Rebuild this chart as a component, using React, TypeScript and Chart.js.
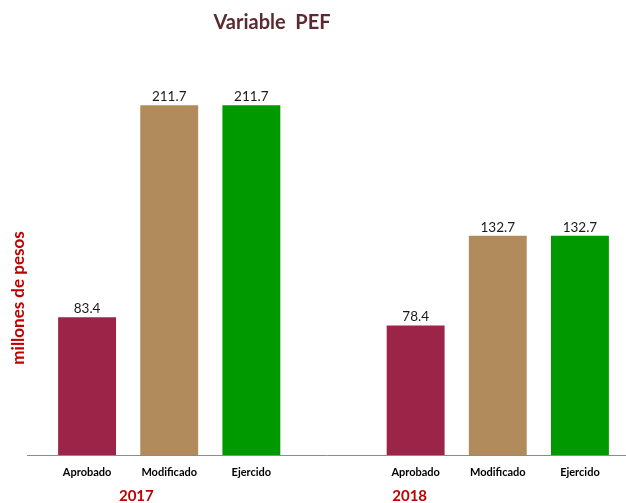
import React, { useEffect, useRef } from "react";
import { Chart, registerables } from "chart.js";

Chart.register(...registerables);

const title = "Variable  PEF";
const yAxisTitle = "millones de pesos";
const categories = ["Aprobado", "Modificado", "Ejercido"];
const years = ["2017", "2018"];
const values2017 = [83.4, 211.7, 211.7];
const values2018 = [78.4, 132.7, 132.7];
const barColors = ["#9c2449", "#b28b5c", "#009900"];

const labels = [...categories, "", ...categories];
const values: (number | null)[] = [...values2017, null, ...values2018];
const colors = [...barColors, "transparent", ...barColors];

const FONT = "Lato, 'Open Sans', sans-serif";

const decorPlugin = {
  id: "decor",
  afterDatasetsDraw(chart: any) {
    const ctx = chart.ctx as CanvasRenderingContext2D;
    const area = chart.chartArea;
    const x = chart.scales.x;
    ctx.save();
    // baseline
    ctx.strokeStyle = "#8c8c8c";
    ctx.lineWidth = 1;
    ctx.beginPath();
    ctx.moveTo(27, Math.round(area.bottom) + 0.5);
    ctx.lineTo(626, Math.round(area.bottom) + 0.5);
    ctx.stroke();

    // title
    ctx.fillStyle = "#5e2a31";
    ctx.font = `bold 20px ${FONT}`;
    ctx.textAlign = "center";
    ctx.textBaseline = "middle";
    ctx.fillText(title, 272, 23);

    // y axis title
    ctx.save();
    ctx.translate(19, 298);
    ctx.rotate(-Math.PI / 2);
    ctx.fillStyle = "#c00000";
    ctx.font = `bold 17px ${FONT}`;
    ctx.fillText(yAxisTitle, 0, 0);
    ctx.restore();

    // data labels
    const meta = chart.getDatasetMeta(0);
    ctx.fillStyle = "#1a1a1a";
    ctx.font = `13.5px ${FONT}`;
    ctx.textBaseline = "alphabetic";
    meta.data.forEach((bar: any, i: number) => {
      const v = values[i];
      if (v == null) return;
      ctx.fillText(v.toFixed(1), bar.x, bar.y - 4);
    });

    // category labels
    ctx.fillStyle = "#000000";
    ctx.font = `bold 11px ${FONT}`;
    ctx.textBaseline = "middle";
    labels.forEach((l, i) => {
      if (!l) return;
      ctx.fillText(l, x.getPixelForValue(i), area.bottom + 17);
    });

    // year labels
    ctx.fillStyle = "#c00000";
    ctx.font = `bold 15px ${FONT}`;
    const p0 = x.getPixelForValue(0);
    const p1 = x.getPixelForValue(1);
    const p4 = x.getPixelForValue(4);
    ctx.fillText(years[0], p0 + (p1 - p0) * 0.6, area.bottom + 41);
    ctx.fillText(years[1], p4 - 6, area.bottom + 41);
    ctx.restore();
  },
};

export default function App() {
  const ref = useRef<HTMLCanvasElement>(null);
  useEffect(() => {
    if (!ref.current) return;
    const chart = new Chart(ref.current, {
      type: "bar",
      data: {
        labels,
        datasets: [
          {
            data: values as any,
            backgroundColor: colors,
            borderWidth: 0,
            barPercentage: 0.705,
            categoryPercentage: 1,
          },
        ],
      },
      options: {
        responsive: false,
        animation: false,
        layout: { padding: { left: 46, right: 5, top: 75, bottom: 48 } },
        plugins: { legend: { display: false }, tooltip: { enabled: false }, title: { display: false } },
        scales: {
          x: { display: false },
          y: { display: false, min: 0, max: 230 },
        },
      },
      plugins: [decorPlugin],
    });
    return () => chart.destroy();
  }, []);
  return (
    <div style={{ position: "absolute", left: 0, top: 0, width: 626, height: 503, background: "#fff" }}>
      <canvas ref={ref} width={626} height={503} style={{ width: 626, height: 503 }} />
    </div>
  );
}
